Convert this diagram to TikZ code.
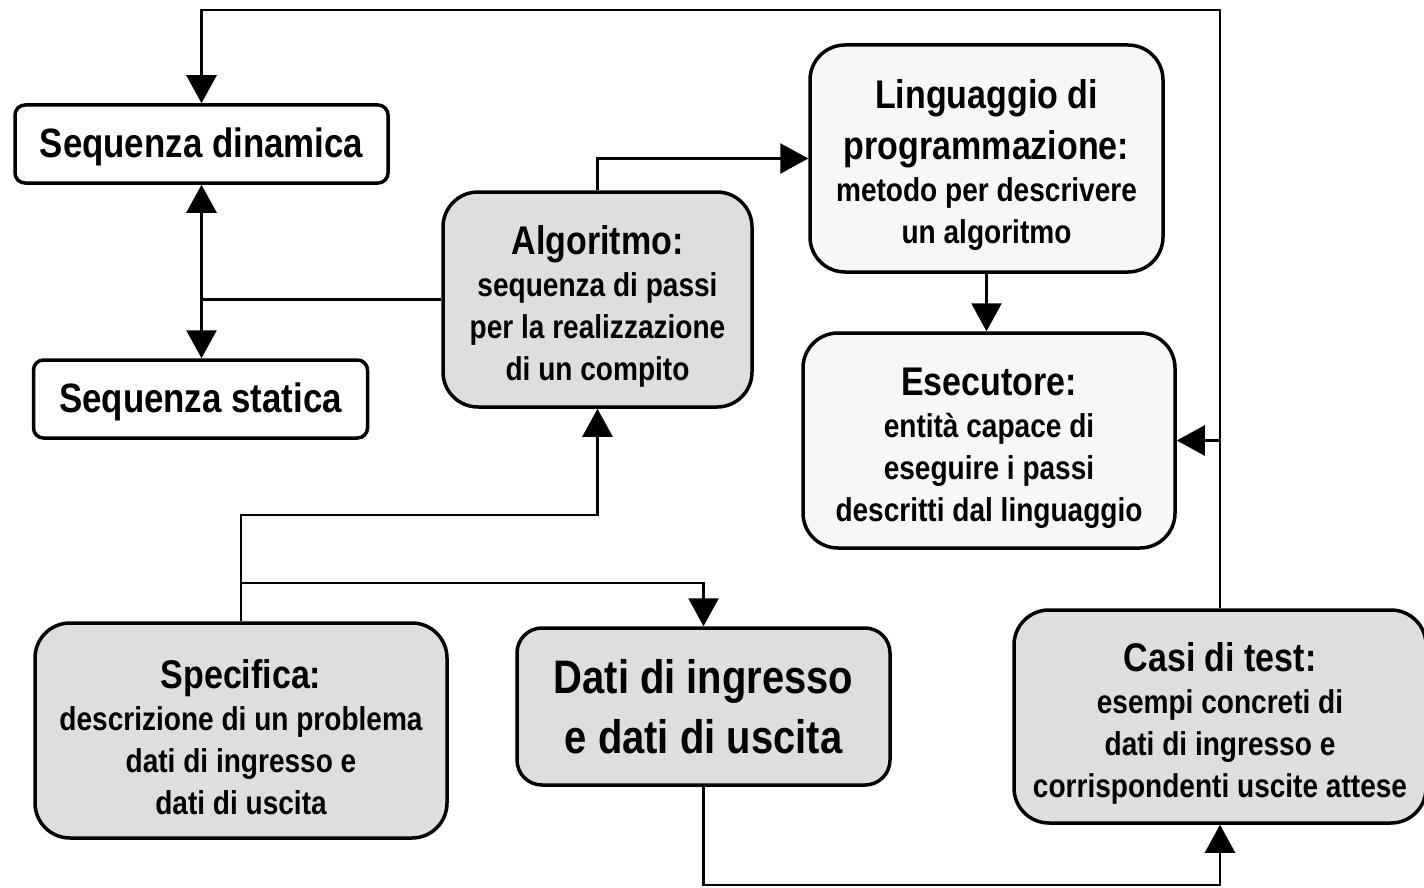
\documentclass[tikz,border=0pt]{standalone}
\usepackage{fontspec}
\setmainfont{Liberation Sans}[FakeStretch=0.85]
\usetikzlibrary{arrows.meta}
\definecolor{boxgray}{RGB}{222,222,222}
\definecolor{boxlight}{RGB}{247,247,247}
\tikzset{
 box/.style={draw=black, line width=3.5pt, align=center, inner sep=0pt, font=\bfseries\fontsize{33}{42}\selectfont},
 plainbox/.style={box, fill=white, rounded corners=10pt, font=\bfseries\fontsize{41}{48}\selectfont},
 graybox/.style={box, fill=boxgray, rounded corners=35pt},
 lightbox/.style={box, fill=boxlight, rounded corners=35pt},
 conn/.style={line width=2.5pt},
 arr/.style={conn, -{Triangle[width=30pt,length=28pt]}},
}
\newcommand{\ttl}[1]{{\fontsize{40}{44}\selectfont\rule{0pt}{42pt}#1}}
\begin{document}
\begin{tikzpicture}[x=1pt,y=-1pt]
\useasboundingbox (0,0) rectangle (1424,888);
\node[plainbox, minimum width=373pt, minimum height=78pt] (seqdin) at (201.5,144) {\rule{0pt}{36pt}Sequenza dinamica};
\node[plainbox, minimum width=334pt, minimum height=78pt] (seqstat) at (200.5,399) {\rule{0pt}{36pt}Sequenza statica};
\node[graybox, minimum width=309pt, minimum height=215pt] (algo) at (597.5,299.5) {\ttl{Algoritmo:}\\sequenza di passi\\per la realizzazione\\di un compito};
\node[lightbox, minimum width=353pt, minimum height=227pt] (ling) at (986.5,158.5) {\ttl{Linguaggio di}\\\ttl{programmazione:}\\metodo per descrivere\\un algoritmo};
\node[lightbox, minimum width=372pt, minimum height=215pt] (esec) at (989,440.5) {\ttl{Esecutore:}\\entità capace di\\eseguire i passi\\descritti dal linguaggio};
\node[graybox, minimum width=412pt, minimum height=215pt] (spec) at (241,730.5) {\ttl{Specifica:}\\descrizione di un problema\\dati di ingresso e\\dati di uscita};
\node[graybox, rounded corners=25pt, minimum width=373pt, minimum height=157pt, font=\bfseries\fontsize{47}{60}\selectfont] (dati) at (703.5,706.5) {Dati di ingresso\\e dati di uscita};
\node[graybox, minimum width=412pt, minimum height=213pt] (casi) at (1220,716.5) {\ttl{Casi di test:}\\esempi concreti di\\dati di ingresso e\\corrispondenti uscite attese};
\coordinate (top) at (700,10);
\draw[arr] (casi.north) |- (top) -| (seqdin.north);
\draw[arr] (casi.north |- esec.east) -- (esec.east);
\coordinate (j1) at (seqdin.south |- algo.west);
\draw[conn] (algo.west) -- (j1);
\draw[arr] (j1) -- (seqdin.south);
\draw[arr] (j1) -- (seqdin.south |- seqstat.north);
\draw[arr] (algo.north) |- (ling.west);
\draw[arr] (ling.south) -- (ling.south |- esec.north);
\coordinate (k) at (400,515);
\draw[arr] (spec.north) |- (k) -| (algo.south);
\coordinate (mrow) at (0,583);
\coordinate (m) at (spec.north |- mrow);
\draw[arr] (m) -| (dati.north);
\coordinate (b) at (900,885);
\draw[arr] (dati.south) |- (b) -| (casi.south);
\end{tikzpicture}
\end{document}
